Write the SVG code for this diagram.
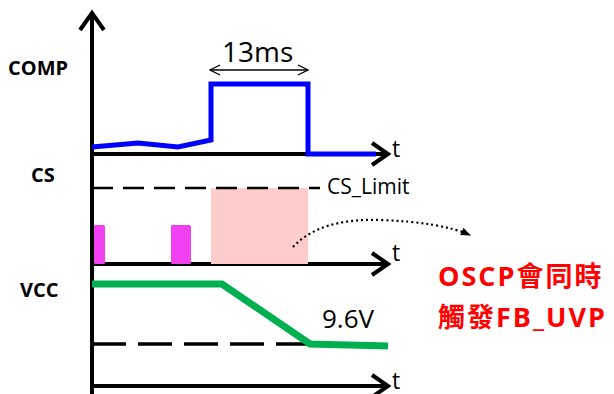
<svg xmlns="http://www.w3.org/2000/svg" width="614" height="394" viewBox="0 0 614 394">
<style>
.ax{stroke:#000;stroke-width:4;fill:none;stroke-linejoin:miter}
.lbl{font-family:"Open Sans","Liberation Sans",sans-serif;font-weight:bold;font-size:20px;fill:#000}
.t{font-family:"Open Sans","Liberation Sans",sans-serif;font-size:23px;fill:#000}
.red{font-family:"Open Sans","Noto Sans CJK TC",sans-serif;font-weight:bold;font-size:27px;letter-spacing:2px;fill:#FF0000}
</style>
<defs>
<marker id="oa" viewBox="0 0 12 12" refX="11" refY="6" markerWidth="12" markerHeight="12" orient="auto-start-reverse" markerUnits="userSpaceOnUse">
<path d="M1,1 L11,6 L1,11" fill="none" stroke="#000" stroke-width="1.3"/>
</marker>
<marker id="da" viewBox="0 0 10 10" refX="9" refY="5" markerWidth="10" markerHeight="10" orient="auto" markerUnits="userSpaceOnUse">
<path d="M0,1 L10,5 L0,9 Z" fill="#000"/>
</marker>
</defs>
<g id="axes">
<path class="ax" d="M92,394 V14"/>
<path class="ax" d="M80,30 L92,13 L104,30"/>
<path class="ax" d="M92,154 H386"/>
<path class="ax" d="M372,143 L388,154 L372,165"/>
<path class="ax" d="M92,264 H386"/>
<path class="ax" d="M372,253 L388,264 L372,275"/>
<path class="ax" d="M92,386 H386"/>
<path class="ax" d="M372,375 L388,386 L372,397"/>
</g>
<g id="labels">
<text class="lbl" x="8" y="75">COMP</text>
<text class="lbl" x="31" y="182">CS</text>
<text class="lbl" x="20" y="297">VCC</text>
<text class="t" x="392" y="157">t</text>
<text class="t" x="392" y="261">t</text>
<text class="t" x="392" y="389">t</text>
</g>
<g id="comp">
<path d="M92,147 L138,143 L178,147 L211,140 V84 H308 V154 H376" fill="none" stroke="#0000FF" stroke-width="5"/>
<line x1="210" y1="70" x2="308" y2="70" stroke="#000" stroke-width="1.3" marker-start="url(#oa)" marker-end="url(#oa)"/>
<text x="222" y="62" font-family="Open Sans, Liberation Sans, sans-serif" font-size="28" fill="#000">13ms</text>
</g>
<g id="cs">
<rect x="211" y="188" width="97" height="76" fill="#FFCCCC"/>
<rect x="94" y="225" width="11" height="39" rx="1.5" fill="#F040F0"/>
<rect x="171" y="225" width="20" height="39" rx="1.5" fill="#F040F0"/>
<line x1="92" y1="188" x2="320" y2="188" stroke="#000" stroke-width="2.5" stroke-dasharray="21,10"/>
<text x="327" y="194" font-family="Open Sans, Liberation Sans, sans-serif" font-size="21" fill="#000">CS_Limit</text>
</g>
<g id="vcc">
<line x1="92" y1="344" x2="375" y2="344" stroke="#000" stroke-width="3.5" stroke-dasharray="34,12"/>
<path d="M92,284 H222 L310,344 L388,346" fill="none" stroke="#00B050" stroke-width="7"/>
<text x="322" y="328" font-family="Open Sans, Liberation Sans, sans-serif" font-size="26" fill="#000">9.6V</text>
</g>
<g id="connectors">
<path d="M293,247 Q320,218 380,220 Q440,222 470,235" fill="none" stroke="#000" stroke-width="2.2" stroke-dasharray="2,3" marker-end="url(#da)"/>
</g>
<g id="note">
<text class="red" x="438" y="286">OSCP會同時</text>
<text class="red" x="438" y="327">觸發FB_UVP</text>
</g>
</svg>
